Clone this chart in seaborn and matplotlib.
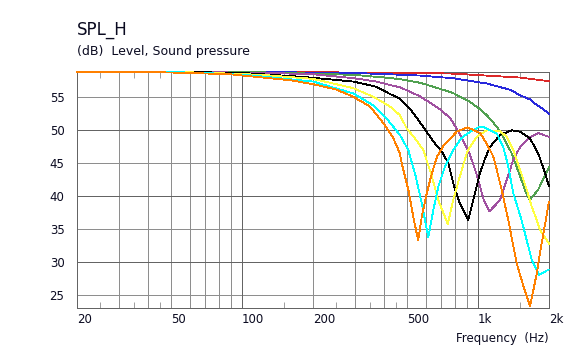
import matplotlib
matplotlib.use("Agg")
import matplotlib.pyplot as plt
import numpy as np
import pandas as pd
import seaborn as sns
from matplotlib.ticker import FixedLocator, NullFormatter

# ---------------- data (Hz, dB) ----------------
red_f = [20, 200, 400, 570, 785, 1090, 1510, 2000]
red_db = [58.8, 58.8, 58.75, 58.7, 58.6, 58.3, 58.0, 57.45]

blue_f = [20, 150, 300, 420, 570, 785, 1090, 1370, 1510, 1660, 1720, 1890, 2000]
blue_db = [58.8, 58.8, 58.7, 58.5, 58.3, 57.9, 57.1, 56.15, 55.3, 54.7, 54.2, 53.2, 52.5]

green_f = [20, 120, 200, 300, 420, 470, 570, 690, 785, 925, 1020, 1090, 1160, 1240,
           1280, 1390, 1510, 1580, 1655, 1800, 1925, 2000]
green_db = [58.8, 58.8, 58.6, 58.4, 57.95, 57.75, 57.2, 56.3, 55.65, 54.3, 53.2, 52.3,
            51.2, 49.9, 49.0, 46.5, 43.0, 41.0, 39.4, 41.0, 43.2, 44.4]

purple_f = [20, 80, 130, 200, 300, 370, 420, 470, 515, 568, 607, 690, 760, 815, 870,
            925, 990, 1055, 1117, 1240, 1325, 1410, 1510, 1635, 1800, 2000]
purple_db = [58.8, 58.8, 58.7, 58.5, 57.9, 57.4, 56.9, 56.5, 55.85, 55.15, 54.5, 53.2,
             51.9, 50.2, 48.3, 46.3, 43.2, 39.6, 37.7, 39.4, 42.5, 45.5, 47.5, 48.8, 49.6, 49.0]

black_f = [20, 70, 100, 182, 296, 372, 424, 467, 515, 587, 647, 702, 749, 792, 838,
           910, 971, 1020, 1066, 1125, 1240, 1390, 1510, 1660, 1800, 1925, 2000]
black_db = [58.8, 58.8, 58.7, 58.1, 57.4, 56.6, 55.5, 54.8, 53.3, 50.5, 48.3, 46.8,
            45.0, 41.5, 38.9, 36.4, 40.45, 43.5, 45.5, 47.5, 49.3, 50.0, 49.8, 48.8,
            46.5, 43.5, 41.5]

yellow_f = [20, 60, 90, 123, 200, 296, 360, 424, 467, 499, 540, 587, 638, 679, 745,
            785, 838, 896, 925, 988, 1089, 1240, 1324, 1412, 1508, 1610, 1690, 1775,
            1832, 2000]
yellow_db = [58.8, 58.8, 58.6, 58.4, 57.8, 56.4, 55.1, 53.6, 52.3, 50.3, 48.8, 47.0,
             43.0, 39.4, 35.8, 39.4, 43.0, 46.5, 47.5, 49.0, 50.0, 49.9, 49.0, 47.0,
             44.0, 41.0, 38.4, 36.4, 34.9, 32.8]

cyan_f = [20, 55, 80, 112, 200, 296, 360, 410, 467, 507, 545, 578, 616, 647, 679, 725,
          785, 850, 900, 1003, 1053, 1125, 1202, 1280, 1344, 1412, 1530, 1690, 1814, 2000]
cyan_db = [58.8, 58.8, 58.6, 58.3, 57.4, 55.6, 53.8, 51.8, 49.3, 47.0, 43.0, 38.9,
           33.8, 37.9, 41.45, 44.5, 47.0, 48.8, 49.5, 50.45, 50.5, 50.0, 49.5, 47.5,
           44.5, 40.45, 36.4, 30.35, 28.1, 28.9]

orange_f = [20, 45, 60, 89, 123, 160, 200, 250, 296, 349, 397, 438, 467, 475, 507, 532,
            558, 578, 607, 638, 671, 713, 813, 901, 1020, 1089, 1162, 1202, 1260, 1344,
            1460, 1560, 1662, 1775, 1832, 2000]
orange_db = [58.8, 58.8, 58.7, 58.5, 58.0, 57.6, 57.0, 56.2, 55.1, 53.6, 51.1, 48.8,
             46.5, 45.0, 41.0, 36.9, 33.3, 36.9, 40.45, 43.5, 46.0, 47.6, 49.8, 50.45,
             49.6, 48.0, 46.0, 44.0, 41.0, 36.4, 29.8, 26.3, 23.3, 28.3, 31.4, 39.2]

curve_names = ["red", "blue", "green", "purple", "black", "yellow", "cyan", "orange"]
curve_colors = ["#dc2828", "#2828dc", "#50a050", "#a050a0", "#000000",
                "#ffff40", "#00ffff", "#ff8000"]

x_tick_vals = [20, 50, 100, 200, 500, 1000, 2000]
x_tick_labels = ["20", "50", "100", "200", "500", "1k", "2k"]
y_tick_vals = [25, 30, 35, 40, 45, 50, 55]

series = {
    "red": (red_f, red_db), "blue": (blue_f, blue_db), "green": (green_f, green_db),
    "purple": (purple_f, purple_db), "black": (black_f, black_db),
    "yellow": (yellow_f, yellow_db), "cyan": (cyan_f, cyan_db),
    "orange": (orange_f, orange_db),
}
frames = []
for name in curve_names:
    f, d = series[name]
    frames.append(pd.DataFrame({"curve": name, "freq": f, "spl": d}))
df = pd.concat(frames, ignore_index=True)

# ---------------- style ----------------
sns.set_theme(style="white")
plt.rcParams["font.family"] = ["DejaVu Sans"]
txt_col = "#0a0a20"
dark = "#646464"
light = "#8e8e8e"
LW = 0.6

W, H = 578, 351
fig = plt.figure(figsize=(W / 100, H / 100), dpi=100)
fig.patch.set_facecolor("white")
L, R, T, B = 77, 549, 72.3, 307.7
ax = fig.add_axes([L / W, 1 - B / H, (R - L) / W, (B - T) / H])
ax.set_facecolor("white")
ax.set_xscale("log")
ax.set_xlim(20, 2000)
ax.set_ylim(23.1, 58.8)

# grid lines
for f in [30, 40, 50, 60, 70, 80, 90, 200, 300, 400, 500, 600, 700, 800, 900]:
    ax.axvline(f, color=light, lw=LW, zorder=1, antialiased=False)
for f in [100, 1000]:
    ax.axvline(f, color=dark, lw=LW, zorder=1.1, antialiased=False)
for v in y_tick_vals:
    ax.axhline(v, color=dark if v % 10 == 0 else light, lw=LW, zorder=1,
               antialiased=False)

sns.lineplot(data=df, x="freq", y="spl", hue="curve", hue_order=curve_names,
             palette=dict(zip(curve_names, curve_colors)), estimator=None,
             sort=False, linewidth=0.6, legend=False, ax=ax, zorder=3,
             clip_on=False, antialiased=False)

for s in ax.spines.values():
    s.set_color(dark)
    s.set_linewidth(LW)
    s.set_antialiased(False)
    s.set_visible(True)

ax.set_xticks(x_tick_vals)
ax.set_xticklabels(x_tick_labels)
ax.xaxis.set_minor_locator(FixedLocator([25, 35, 45, 150, 250, 350, 450, 1500]))
ax.xaxis.set_minor_formatter(NullFormatter())
ax.tick_params(axis="x", which="major", length=0, pad=4, labelsize=8.5,
               labelcolor=txt_col)
ax.tick_params(axis="x", which="minor", direction="in", length=4, width=LW,
               color=light, top=True, bottom=True)
for lab in ax.get_xticklabels():
    lab.set_horizontalalignment("left")
ax.set_yticks(y_tick_vals)
ax.set_yticklabels([str(v) for v in y_tick_vals])
ax.tick_params(axis="y", which="major", length=0, pad=9, labelsize=8.5,
               labelcolor=txt_col)
ax.set_xlabel("")
ax.set_ylabel("")

fig.text(L / W, 1 - 34.3 / H, "SPL_H", fontsize=12, color=txt_col,
         ha="left", va="baseline")
fig.text(L / W, 1 - 55 / H, "(dB)  Level, Sound pressure", fontsize=9,
         color=txt_col, ha="left", va="baseline")
fig.text(R / W, 1 - 341.7 / H, "Frequency  (Hz)", fontsize=8.5, color=txt_col,
         ha="right", va="baseline")

fig.savefig("out.png", dpi=100, facecolor="white")
